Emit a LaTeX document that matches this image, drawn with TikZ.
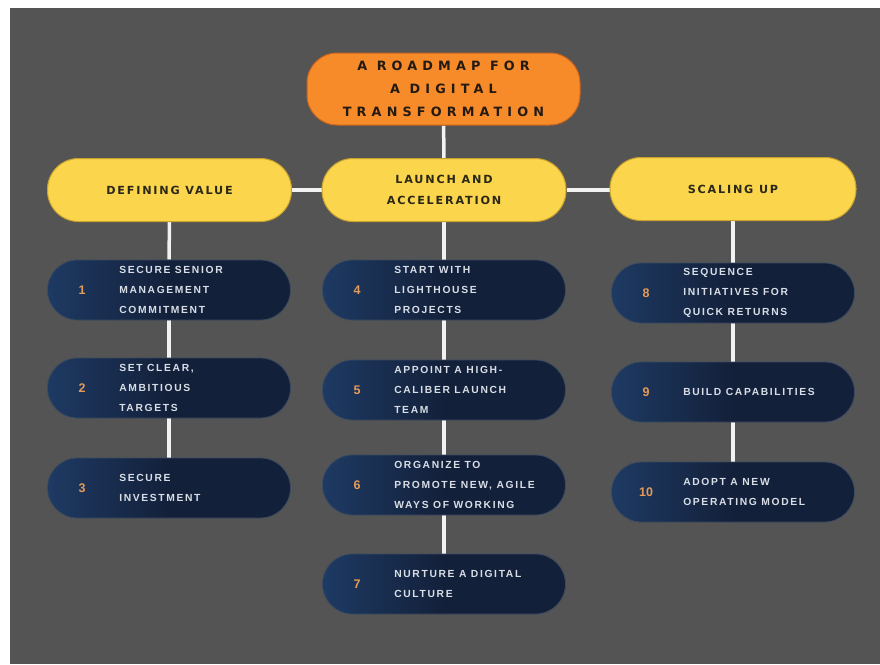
\documentclass[tikz,border=0pt]{standalone}
\usepackage{fontspec}
\newfontfamily\titlefont{DejaVu Sans}[LetterSpace=40]
\newfontfamily\phasefont{DejaVu Sans}[LetterSpace=16]
\newfontfamily\stepfont{Liberation Sans}[LetterSpace=16]
\newfontfamily\numfont{Liberation Sans}
\definecolor{bggray}{HTML}{545454}
\definecolor{linewhite}{HTML}{F2F2F2}
\definecolor{roadorange}{HTML}{F78B2A}
\definecolor{orangeedge}{HTML}{C8641E}
\definecolor{titletext}{HTML}{231A12}
\definecolor{phaseyellow}{HTML}{FBD54C}
\definecolor{yellowedge}{HTML}{C9A22E}
\definecolor{phasetext}{HTML}{2B2816}
\definecolor{stepnavy}{HTML}{13203A}
\definecolor{stepglow}{HTML}{1E3A63}
\definecolor{stepedge}{HTML}{3A4A60}
\definecolor{steptextcol}{HTML}{D9DEE6}
\definecolor{numorange}{HTML}{E59B58}
\pgfdeclarelayer{bglayer}
\pgfdeclarelayer{linelayer}
\pgfsetlayers{bglayer,linelayer,main}
\tikzset{
  conn/.style={draw=linewhite, line width=3.5pt},
  titlebox/.style={draw=orangeedge, line width=1pt, fill=roadorange, rounded corners=30pt,
    minimum width=273pt, minimum height=72pt, inner sep=0pt, align=center, text=titletext,
    font=\titlefont\bfseries\fontsize{12.8}{23}\selectfont},
  phasebox/.style={draw=yellowedge, line width=1pt, fill=phaseyellow, rounded corners=31pt,
    minimum width=244pt, minimum height=63pt, inner sep=0pt, align=center, text=phasetext,
    font=\phasefont\bfseries\fontsize{11.2}{21}\selectfont},
  stepbox/.style={draw=stepedge, line width=0.8pt, rounded corners=30pt,
    minimum width=243pt, minimum height=60pt, inner sep=0pt,
    left color=stepglow, right color=stepnavy, middle color=stepnavy},
  numlabel/.style={text=numorange, inner sep=0pt, font=\numfont\bfseries\fontsize{12.5}{14}\selectfont},
  steptext/.style={anchor=west, align=left, inner sep=0pt, text=steptextcol,
    font=\stepfont\bfseries\fontsize{10.3}{20}\selectfont},
}
\begin{document}
\begin{tikzpicture}[x=1pt,y=-1pt]
\useasboundingbox (0,0) rectangle (880,664);
\begin{pgfonlayer}{bglayer}
  \fill[white] (0,0) rectangle (880,664);
  \fill[bggray] (10,8) rectangle (880,664);
\end{pgfonlayer}

\node[titlebox] (title) at (443.5,89) {A ROADMAP FOR\\A DIGITAL\\TRANSFORMATION};

\node[phasebox] (defining) at (169.5,190) {DEFINING VALUE};
\node[phasebox] (launch) at (444,190) {LAUNCH AND\\ACCELERATION};
\node[phasebox, minimum width=246pt] (scaling) at (733,189) {SCALING UP};

% column 1
\node[stepbox] (s1) at (169,290) {};
\node[stepbox] (s2) at (169,388) {};
\node[stepbox] (s3) at (169,488) {};
% column 2
\node[stepbox] (s4) at (444,290) {};
\node[stepbox] (s5) at (444,390) {};
\node[stepbox] (s6) at (444,485) {};
\node[stepbox] (s7) at (444,584) {};
% column 3
\node[stepbox] (s8) at (733,293) {};
\node[stepbox] (s9) at (733,392) {};
\node[stepbox] (s10) at (733,492) {};

\foreach \b/\n/\t in {
  s1/1/{SECURE SENIOR\\MANAGEMENT\\COMMITMENT},
  s2/2/{SET CLEAR,\\AMBITIOUS\\TARGETS},
  s3/3/{SECURE\\INVESTMENT},
  s4/4/{START WITH\\LIGHTHOUSE\\PROJECTS},
  s5/5/{APPOINT A HIGH-\\CALIBER LAUNCH\\TEAM},
  s6/6/{ORGANIZE TO\\PROMOTE NEW, AGILE\\WAYS OF WORKING},
  s7/7/{NURTURE A DIGITAL\\CULTURE},
  s8/8/{SEQUENCE\\INITIATIVES FOR\\QUICK RETURNS},
  s9/9/{BUILD CAPABILITIES},
  s10/10/{ADOPT A NEW\\OPERATING MODEL}}{
  \node[numlabel] (\b num) at ([xshift=35pt]\b.west) {\n};
  \node[steptext] (\b txt) at ([xshift=72pt]\b.west) {\t};
}

\begin{pgfonlayer}{linelayer}
  \draw[conn] (title) -- (launch);
  \draw[conn] (defining) -- (launch);
  \draw[conn] (launch) -- (scaling.west |- launch.center);
  \draw[conn] (defining) -- (s1);
  \draw[conn] (s1) -- (s2);
  \draw[conn] (s2) -- (s3);
  \draw[conn] (launch) -- (s4);
  \draw[conn] (s4) -- (s5);
  \draw[conn] (s5) -- (s6);
  \draw[conn] (s6) -- (s7);
  \draw[conn] (scaling) -- (s8);
  \draw[conn] (s8) -- (s9);
  \draw[conn] (s9) -- (s10);
\end{pgfonlayer}
\end{tikzpicture}
\end{document}
